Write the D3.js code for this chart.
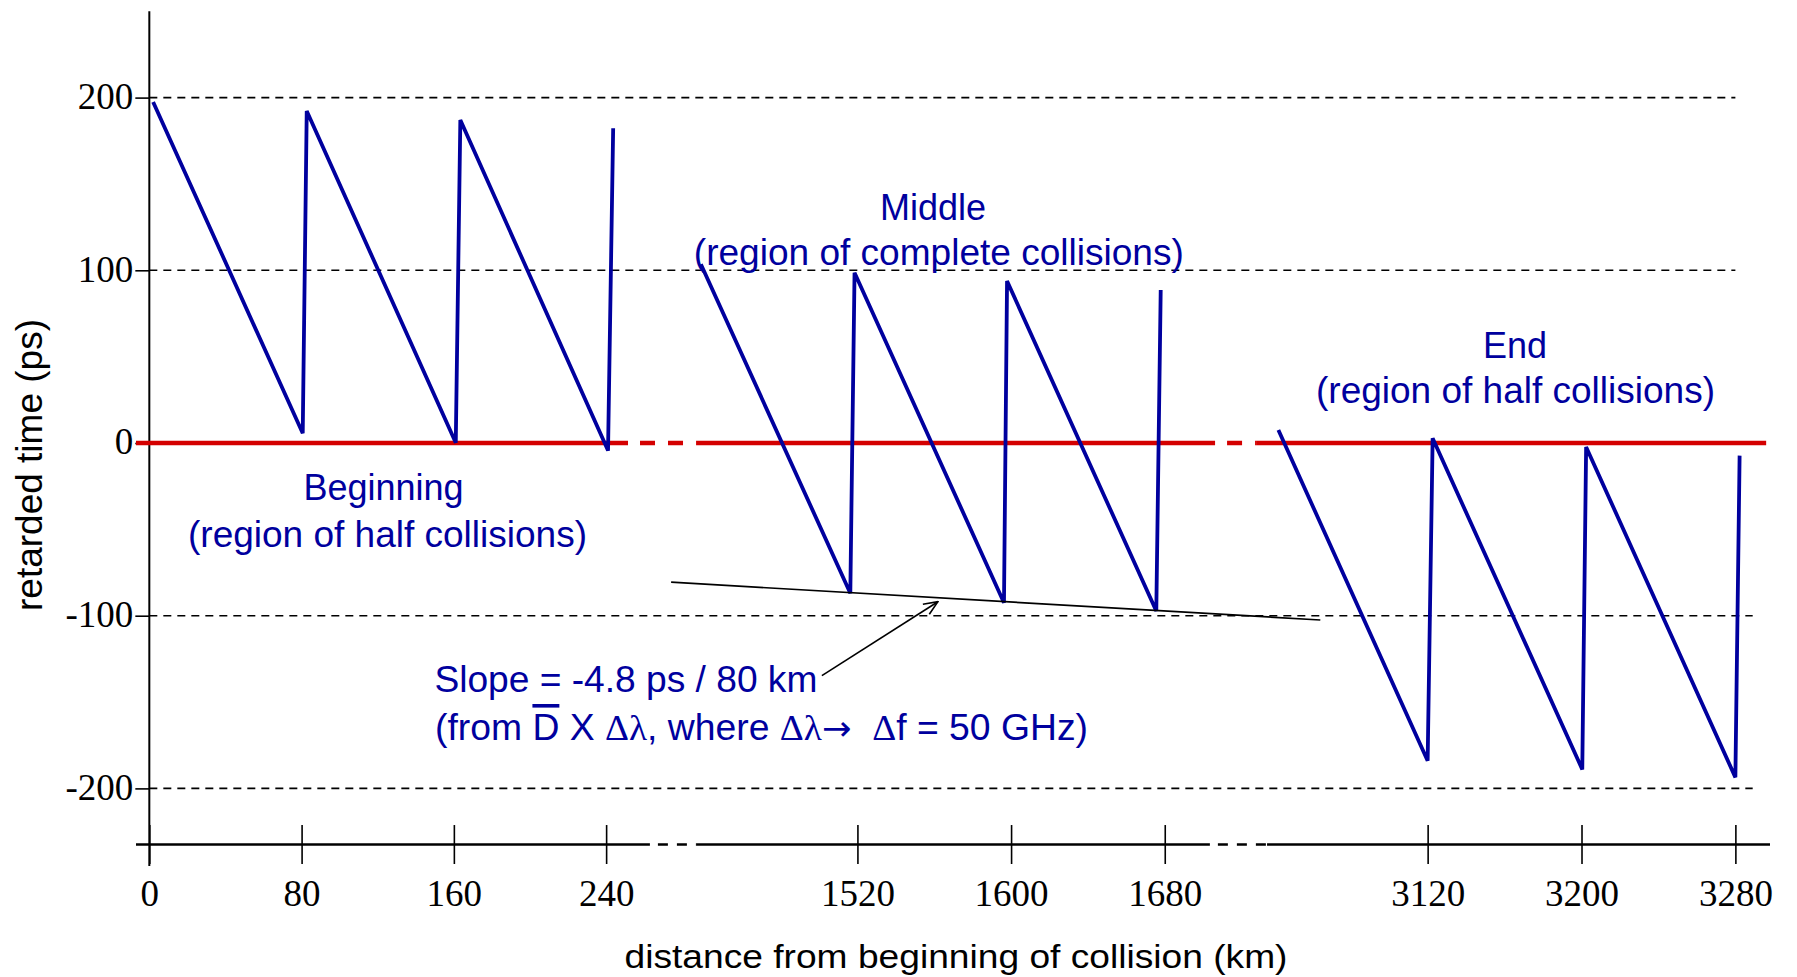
<!DOCTYPE html>
<html>
<head>
<meta charset="utf-8">
<script src="https://cdn.jsdelivr.net/npm/d3@7"></script>
<style>
  body { margin: 0; background: #fff; }
  svg { display: block; }
</style>
</head>
<body>
<svg id="chart" width="1797" height="977"></svg>
<script>
// ---------- data ----------
// distance (km) and retarded time (ps)
const beginKm  = [2, 80.6, 82.7, 161.0, 163.4, 241.0, 243.7];
const beginPs  = [197.5, 5.6, 192.2, 0.2, 187.0, -4.4, 182.2];
const middleKm = [1438.5, 1516.3, 1518.5, 1596.3, 1597.9, 1675.6, 1677.9];
const middlePs = [103.5, -87.0, 98.6, -92.5, 93.8, -97.3, 88.6];
const endKm    = [3042.4, 3120.0, 3122.6, 3200.4, 3202.4, 3280.0, 3282.2];
const endPs    = [7.5, -184.0, 2.7, -189.0, -2.3, -193.6, -7.3];

const xTickValues = [0, 80, 160, 240, 1520, 1600, 1680, 3120, 3200, 3280];
const yTickValues = [200, 100, 0, -100, -200];
const gridValues  = [200, 100, -100, -200];
const gridEndKm   = [3280, 3280, 3289, 3289];

// axis breaks (km) : three visible pieces of the distance axis
const xBreaks = [-7, 262, 1437, 1702, 3037, 3298];
const redSolidKm  = [[-7, 251.5], [1436, 1706.2], [3030.8, 3296]];
const axisSolidKm = [[-7, 263], [1436, 1703.5], [3036.5, 3298]];
// fitted slope line (drawn in the middle piece's coordinates)
const slopeKm = [1423, 1761];
const slopePs = [-80.6, -102.5];
// arrow pointing at the slope line
const arrowKm = [1501.5, 1561.9];
const arrowPs = [-134.7, -91.9];

const xTitle = "distance from beginning of collision (km)";
const yTitle = "retarded time (ps)";

// ---------- layout ----------
const W = 1797, H = 977;
const xPix = [136, 648, 698, 1207, 1268, 1770];
const BLUE = "#00009e", RED = "#d40000";

const svg = d3.select("#chart");
svg.append("rect").attr("width", W).attr("height", H).attr("fill", "#fff");

const x = d3.scaleLinear().domain(xBreaks).range(xPix);
const seg = [0, 1, 2].map(i => d3.scaleLinear()
  .domain([xBreaks[2 * i], xBreaks[2 * i + 1]])
  .range([xPix[2 * i], xPix[2 * i + 1]]));
const y = d3.scaleLinear().domain([-250, 250]).range([874.75, 11.25]);
const yAxisPos = x(0);
const xAxisY = y(-232.5);

// defs
const defs = svg.append("defs");
defs.append("marker").attr("id", "arr")
  .attr("viewBox", "0 0 16 16").attr("refX", 15).attr("refY", 8)
  .attr("markerWidth", 16).attr("markerHeight", 16)
  .attr("markerUnits", "userSpaceOnUse").attr("orient", "auto")
  .append("path").attr("d", "M1,2 L15,8 L1,14")
  .attr("fill", "none").attr("stroke", "#000").attr("stroke-width", 1.6);

// ---------- grid ----------
svg.append("g").selectAll("line").data(gridValues).join("line")
  .attr("x1", yAxisPos).attr("x2", (d, i) => x(gridEndKm[i]))
  .attr("y1", d => y(d)).attr("y2", d => y(d))
  .attr("stroke", "#000").attr("stroke-width", 1.6)
  .attr("stroke-dasharray", "8,6");

// ---------- y axis ----------
const yAxis = d3.axisLeft(y).tickValues(yTickValues).tickSize(14)
  .tickPadding(2).tickFormat(d => String(d));
const gy = svg.append("g").attr("transform", `translate(${yAxisPos},0)`).call(yAxis);
gy.select(".domain").remove();
gy.selectAll(".tick line").attr("stroke", "#000").attr("stroke-width", 1.6);
gy.selectAll(".tick text")
  .attr("font-family", "'Liberation Serif', 'Times New Roman', serif")
  .attr("font-size", 37).attr("fill", "#000").attr("dy", "0.29em");
svg.append("line").attr("x1", yAxisPos).attr("x2", yAxisPos)
  .attr("y1", y(250)).attr("y2", y(-245))
  .attr("stroke", "#000").attr("stroke-width", 2);

// ---------- zero line (red) ----------
const zeroG = svg.append("g");
redSolidKm.forEach((r, i) => {
  zeroG.append("line")
    .attr("x1", seg[i](r[0])).attr("x2", seg[i](r[1]))
    .attr("y1", y(0)).attr("y2", y(0))
    .attr("stroke", RED).attr("stroke-width", 4.5);
  if (i < 2) {
    zeroG.append("line")
      .attr("x1", seg[i](r[1])).attr("x2", seg[i + 1](redSolidKm[i + 1][0]))
      .attr("y1", y(0)).attr("y2", y(0))
      .attr("stroke", RED).attr("stroke-width", 4.5)
      .attr("stroke-dasharray", "15,13").attr("stroke-dashoffset", 16);
  }
});

// ---------- x axis ----------
const axG = svg.append("g");
axisSolidKm.forEach((r, i) => {
  axG.append("line")
    .attr("x1", seg[i](r[0])).attr("x2", seg[i](r[1]))
    .attr("y1", xAxisY).attr("y2", xAxisY)
    .attr("stroke", "#000").attr("stroke-width", 2.6);
  if (i < 2) {
    axG.append("line")
      .attr("x1", seg[i](r[1])).attr("x2", seg[i + 1](axisSolidKm[i + 1][0]))
      .attr("y1", xAxisY).attr("y2", xAxisY)
      .attr("stroke", "#000").attr("stroke-width", 2.6)
      .attr("stroke-dasharray", "10,9").attr("stroke-dashoffset", 11);
  }
});
const xAxis = d3.axisBottom(x).tickValues(xTickValues).tickSize(19.5)
  .tickFormat(d => String(d));
const gx = svg.append("g").attr("transform", `translate(0,${xAxisY})`).call(xAxis);
gx.select(".domain").remove();
gx.selectAll(".tick line").attr("y1", -19.5).attr("y2", 19.5)
  .attr("stroke", "#000").attr("stroke-width", 1.6);
gx.selectAll(".tick text")
  .attr("font-family", "'Liberation Serif', 'Times New Roman', serif")
  .attr("font-size", 37).attr("fill", "#000")
  .attr("y", 61.5).attr("dy", 0);

// ---------- sawtooth curves ----------
const line = d3.line().x(d => x(d[0])).y(d => y(d[1]));
[[beginKm, beginPs], [middleKm, middlePs], [endKm, endPs]].forEach(([ks, ps]) => {
  svg.append("path")
    .datum(ks.map((k, i) => [k, ps[i]]))
    .attr("d", line)
    .attr("fill", "none").attr("stroke", BLUE).attr("stroke-width", 3.8)
    .attr("stroke-linejoin", "miter").attr("stroke-miterlimit", 4);
});

// ---------- slope line and arrow ----------
svg.append("line")
  .attr("x1", seg[1](slopeKm[0])).attr("y1", y(slopePs[0]))
  .attr("x2", seg[1](slopeKm[1])).attr("y2", y(slopePs[1]))
  .attr("stroke", "#000").attr("stroke-width", 1.7);
svg.append("line")
  .attr("x1", seg[1](arrowKm[0])).attr("y1", y(arrowPs[0]))
  .attr("x2", seg[1](arrowKm[1])).attr("y2", y(arrowPs[1]))
  .attr("stroke", "#000").attr("stroke-width", 1.6)
  .attr("marker-end", "url(#arr)");

// ---------- annotation texts ----------
const SANS = "'Liberation Sans', Arial, Helvetica, sans-serif";
const SERIF = "'Liberation Serif', 'Times New Roman', serif";
const labels = [
  { t: "Beginning", x: 383.5, y: 500, w: null },
  { t: "(region of half collisions)", x: 387.5, y: 547, w: 399 },
  { t: "Middle", x: 933, y: 220, w: null },
  { t: "(region of complete collisions)", x: 938.8, y: 265, w: 490 },
  { t: "End", x: 1515, y: 358, w: null },
  { t: "(region of half collisions)", x: 1515.5, y: 403, w: 399 }
];
labels.forEach(l => {
  const t = svg.append("text").attr("x", l.x).attr("y", l.y)
    .attr("text-anchor", "middle").attr("font-family", SANS)
    .attr("font-size", 36).attr("fill", BLUE).text(l.t);
  if (l.w) t.attr("textLength", l.w).attr("lengthAdjust", "spacingAndGlyphs");
});
svg.append("text").attr("x", 434.4).attr("y", 692)
  .attr("font-family", SANS).attr("font-size", 36).attr("fill", BLUE)
  .attr("textLength", 383).attr("lengthAdjust", "spacingAndGlyphs")
  .text("Slope = -4.8 ps / 80 km");

const t2 = svg.append("text").attr("x", 435).attr("y", 740)
  .attr("font-family", SANS).attr("font-size", 36).attr("fill", BLUE)
  .attr("xml:space", "preserve").style("white-space", "pre")
  .attr("textLength", 653).attr("lengthAdjust", "spacingAndGlyphs");
t2.append("tspan").text("(from ");
t2.append("tspan").style("text-decoration", "overline").text("D");
t2.append("tspan").text(" X ");
t2.append("tspan").attr("font-family", SERIF).text("Δλ");
t2.append("tspan").text(", where ");
t2.append("tspan").attr("font-family", SERIF).text("Δλ");
t2.append("tspan").attr("font-family", "'DejaVu Sans', sans-serif").attr("font-size", 34).text("→");
t2.append("tspan").text("  ");
t2.append("tspan").attr("font-family", SERIF).text("Δ");
t2.append("tspan").text("f = 50 GHz)");

// ---------- axis titles ----------
svg.append("text").attr("x", 956).attr("y", 968)
  .attr("text-anchor", "middle").attr("font-family", SANS)
  .attr("font-size", 34).attr("fill", "#000")
  .attr("textLength", 663).attr("lengthAdjust", "spacingAndGlyphs")
  .text(xTitle);
svg.append("text")
  .attr("transform", `translate(42,465) rotate(-90)`)
  .attr("text-anchor", "middle").attr("font-family", SANS)
  .attr("font-size", 36).attr("fill", "#000")
  .attr("textLength", 292).attr("lengthAdjust", "spacingAndGlyphs")
  .text(yTitle);
</script>
</body>
</html>
